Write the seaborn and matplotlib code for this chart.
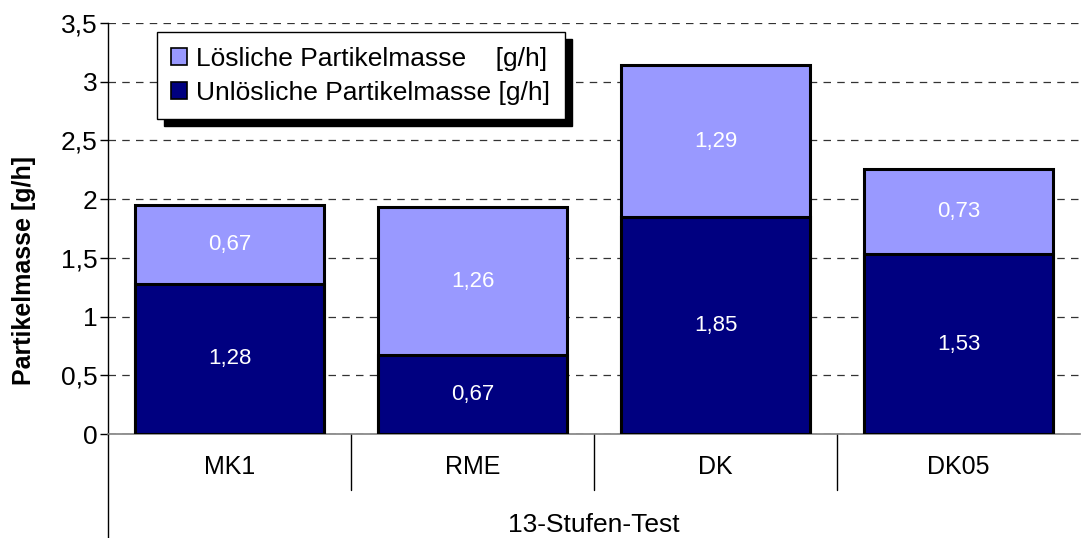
import matplotlib
matplotlib.use("Agg")
import matplotlib.pyplot as plt
import seaborn as sns
import pandas as pd
from matplotlib.patches import Patch
from matplotlib.transforms import blended_transform_factory

categories = ["MK1", "RME", "DK", "DK05"]
unloeslich = [1.28, 0.67, 1.85, 1.53]
loeslich = [0.67, 1.26, 1.29, 0.73]
yticks = [0, 0.5, 1, 1.5, 2, 2.5, 3, 3.5]
ytick_labels = ["0", "0,5", "1", "1,5", "2", "2,5", "3", "3,5"]
group_label = "13-Stufen-Test"
ylabel = "Partikelmasse [g/h]"
legend_labels = ["Lösliche Partikelmasse    [g/h]", "Unlösliche Partikelmasse [g/h]"]

c_light = "#9999FF"
c_dark = "#000080"

sns.set_theme(style="white")
plt.rcParams["font.family"] = ["Liberation Sans", "DejaVu Sans"]
plt.rcParams["text.color"] = "black"
plt.rcParams["axes.labelcolor"] = "black"
plt.rcParams["xtick.color"] = "black"
plt.rcParams["ytick.color"] = "black"

df = pd.DataFrame({"cat": categories,
                   "unl": unloeslich,
                   "loes": loeslich})
df["total"] = df["unl"] + df["loes"]

fig = plt.figure(figsize=(10.82, 5.38), dpi=100)
ax = fig.add_axes([0.0998, 0.1933, 0.8983, 0.7639])

sns.barplot(data=df, x="cat", y="total", color=c_light, edgecolor="black",
            linewidth=2.2, width=0.78, saturation=1, ax=ax, zorder=3)
sns.barplot(data=df, x="cat", y="unl", color=c_dark, edgecolor="black",
            linewidth=2.2, width=0.78, saturation=1, ax=ax, zorder=4)

# value labels
for i, row in df.iterrows():
    ax.text(i, row["unl"] / 2, f"{row['unl']:.2f}".replace(".", ","),
            ha="center", va="center", color="white", fontsize=16, zorder=5)
    ax.text(i, row["unl"] + row["loes"] / 2, f"{row['loes']:.2f}".replace(".", ","),
            ha="center", va="center", color="white", fontsize=16, zorder=5)

ax.set_xlim(-0.5, 3.5)
ax.set_ylim(0, 3.5)
ax.set_yticks(yticks)
ax.set_yticklabels(ytick_labels, fontsize=19)
ax.yaxis.grid(True, linestyle=(0, (6, 5)), color="#333333", linewidth=0.9)
ax.set_axisbelow(True)
ax.tick_params(axis="y", direction="out", length=6, width=1, color="black",
               labelcolor="black", left=True, pad=1.5)
ax.tick_params(axis="x", length=0, pad=15, labelsize=18, labelcolor="black")
ax.set_xlabel("")
ax.set_ylabel(ylabel, fontsize=18, fontweight="bold", color="black")
ax.yaxis.set_label_coords(-0.074, 0.397)

for s in ["top", "right"]:
    ax.spines[s].set_visible(False)
ax.spines["left"].set_color("black")
ax.spines["left"].set_linewidth(1)
ax.spines["bottom"].set_color("#808080")
ax.spines["bottom"].set_linewidth(1.2)

# category separators and group axis
trans = blended_transform_factory(ax.transData, ax.transAxes)
for xs in [0.5, 1.5, 2.5]:
    ax.plot([xs, xs], [0, -0.136], color="black", linewidth=1,
            transform=trans, clip_on=False)
ax.plot([0, 0], [0, -0.26], color="black", linewidth=1,
        transform=ax.transAxes, clip_on=False)
ax.text(0.5, -0.222, group_label, transform=ax.transAxes, ha="center",
        va="center", fontsize=19, color="black")

handles = [Patch(facecolor=c_light, edgecolor="black", linewidth=1.2),
           Patch(facecolor=c_dark, edgecolor="black", linewidth=1.2)]
leg = ax.legend(handles, legend_labels, loc="upper left",
                bbox_to_anchor=(0.050, 0.978), fontsize=19,
                frameon=True, fancybox=False, framealpha=1, edgecolor="black",
                handlelength=0.6, handleheight=0.6, handletextpad=0.35,
                borderpad=0.55, labelspacing=0.38, borderaxespad=0,
                labelcolor="black",
                shadow={"color": "black", "alpha": 1, "ox": 5, "oy": -5})
leg.get_frame().set_linewidth(1)
leg.set_zorder(10)

fig.savefig("out.png", dpi=100)
